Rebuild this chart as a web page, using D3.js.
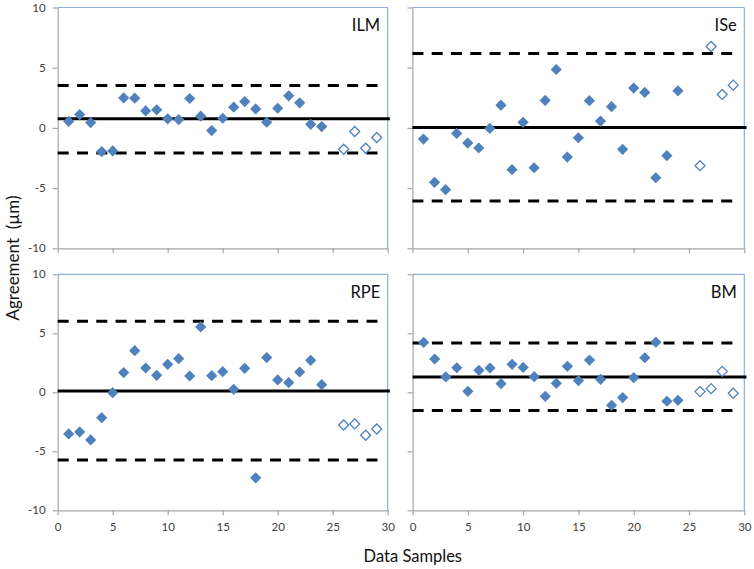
<!DOCTYPE html>
<html>
<head>
<meta charset="utf-8">
<script src="https://cdn.jsdelivr.net/npm/d3@7/dist/d3.min.js"></script>
<style>
  body { margin: 0; background: #fff; }
  svg { display: block; font-family: Lato, "Open Sans", sans-serif; }
</style>
</head>
<body>
<svg id="chart" width="754" height="569"></svg>
<script>
// ---- data ----
const xFilled = [1,2,3,4,5,6,7,8,9,10,11,12,13,14,15,16,17,18,19,20,21,22,23,24];
const xOpen = [26,27,28,29];

const ilmFilled = [0.55,1.11,0.44,-1.97,-1.91,2.49,2.47,1.41,1.50,0.75,0.69,2.44,0.97,-0.22,0.80,1.72,2.19,1.58,0.47,1.63,2.66,2.08,0.30,0.11];
const ilmOpen = [-1.77,-0.30,-1.69,-0.80];
const ilmLimits = [3.52, 0.75, -2.08];

const iseFilled = [-0.93,-4.52,-5.13,-0.46,-1.26,-1.67,-0.04,1.89,-3.47,0.46,-3.31,2.28,4.85,-2.42,-0.82,2.26,0.57,1.76,-1.78,3.31,2.95,-4.14,-2.31,3.08];
const iseOpen = [-3.14,6.76,2.78,3.55];
const iseLimits = [6.18, 0.04, -6.07];

const rpeFilled = [-3.53,-3.36,-4.04,-2.15,-0.03,1.67,3.53,2.06,1.44,2.37,2.85,1.38,5.54,1.41,1.75,0.25,2.03,-7.25,2.94,1.05,0.82,1.72,2.71,0.65];
const rpeOpen = [-2.77,-2.68,-3.64,-3.11];
const rpeLimits = [6.02, 0.11, -5.73];

const bmFilled = [4.23,2.82,1.30,2.08,0.08,1.86,2.06,0.73,2.37,2.11,1.32,-0.34,0.76,2.20,0.99,2.73,1.10,-1.10,-0.45,1.24,2.93,4.25,-0.76,-0.68];
const bmOpen = [0.06,0.31,1.77,-0.08];
const bmLimits = [4.17, 1.30, -1.55];

const panelNames = ["ILM", "ISe", "RPE", "BM"];
const xTicks = [0,5,10,15,20,25,30];
const yTicks = [-10,-5,0,5,10];
const xTitle = "Data Samples";
const yTitle = "Agreement  (\u00b5m)";

// ---- layout ----
const svg = d3.select("#chart");
const BLUE = "#4f81bd";
const BORDER = "#8eacd6";
const AXIS = "#a6a6a6";

const panels = [
  { name: panelNames[0], f: ilmFilled, o: ilmOpen, lim: ilmLimits, x0: 57.7, x1: 387.7, y0: 7.5, y1: 248.3, yLab: true, xLab: false },
  { name: panelNames[1], f: iseFilled, o: iseOpen, lim: iseLimits, x0: 412.4, x1: 744.3, y0: 7.5, y1: 248.3, yLab: false, xLab: false },
  { name: panelNames[2], f: rpeFilled, o: rpeOpen, lim: rpeLimits, x0: 57.7, x1: 387.7, y0: 274.3, y1: 510.3, yLab: true, xLab: true },
  { name: panelNames[3], f: bmFilled, o: bmOpen, lim: bmLimits, x0: 412.6, x1: 744.3, y0: 274.3, y1: 510.3, yLab: false, xLab: true }
];

const diamond = r => `M0,${-r}L${r},0L0,${r}L${-r},0Z`;

panels.forEach(p => {
  const x = d3.scaleLinear().domain([0, 30]).range([p.x0, p.x1]);
  const y = d3.scaleLinear().domain([-10, 10]).range([p.y1, p.y0]);
  const g = svg.append("g");

  // top & right borders
  g.append("line").attr("x1", x(0)).attr("x2", x(30)).attr("y1", y(10)).attr("y2", y(10))
    .attr("stroke", BORDER).attr("stroke-width", 1.2);
  g.append("line").attr("x1", x(30)).attr("x2", x(30)).attr("y1", y(10)).attr("y2", y(-10))
    .attr("stroke", BORDER).attr("stroke-width", 1.2);

  // axes
  const ya = d3.axisLeft(y).tickValues(yTicks).tickSize(5).tickSizeOuter(0).tickPadding(7)
    .tickFormat(d => p.yLab ? String(d) : "");
  const yg = g.append("g").attr("transform", `translate(${x(0)},0)`).call(ya);
  const xa = d3.axisBottom(x).tickValues(xTicks).tickSize(5).tickSizeOuter(0).tickPadding(8)
    .tickFormat(d => p.xLab ? String(d) : "");
  const xg = g.append("g").attr("transform", `translate(0,${y(-10)})`).call(xa);
  [yg, xg].forEach(a => {
    a.select(".domain").attr("stroke", AXIS).attr("stroke-width", 1.2);
    a.selectAll(".tick line").attr("stroke", AXIS).attr("stroke-width", 1.2);
    a.selectAll(".tick text").attr("fill", "#404040").style("font-size", "11.5px")
      .style("font-family", "Lato, 'Open Sans', sans-serif");
  });

  // limit lines
  const [up, mean, lo] = p.lim;
  g.append("line").attr("x1", x(0)).attr("x2", x(30.2)).attr("y1", y(mean)).attr("y2", y(mean))
    .attr("stroke", "#000").attr("stroke-width", 3);
  [up, lo].forEach(v => {
    g.append("line").attr("x1", x(0)).attr("x2", x(29.4)).attr("y1", y(v)).attr("y2", y(v))
      .attr("stroke", "#000").attr("stroke-width", 3).attr("stroke-dasharray", "11,8.3");
  });

  // points
  g.selectAll("path.filled").data(p.f).join("path").attr("class", "filled")
    .attr("d", diamond(5.6))
    .attr("transform", (d, i) => `translate(${x(xFilled[i])},${y(d)})`)
    .attr("fill", BLUE);
  g.selectAll("path.open").data(p.o).join("path").attr("class", "open")
    .attr("d", diamond(5))
    .attr("transform", (d, i) => `translate(${x(xOpen[i])},${y(d)})`)
    .attr("fill", "#fff").attr("stroke", BLUE).attr("stroke-width", 1.3);

  // panel label
  g.append("text").attr("x", x(30) - 7.5).attr("y", y(10) + 23.5)
    .attr("text-anchor", "end").attr("fill", "#111").style("font-size", "16.5px")
    .text(p.name);
});

// axis titles
svg.append("text").attr("x", 412.8).attr("y", 562).attr("text-anchor", "middle")
  .attr("fill", "#111").style("font-size", "16.5px").text(xTitle);
svg.append("text").attr("transform", "translate(19,258) rotate(-90)").attr("text-anchor", "middle")
  .attr("fill", "#111").style("font-size", "17px").style("white-space", "pre").text(yTitle);
</script>
</body>
</html>
